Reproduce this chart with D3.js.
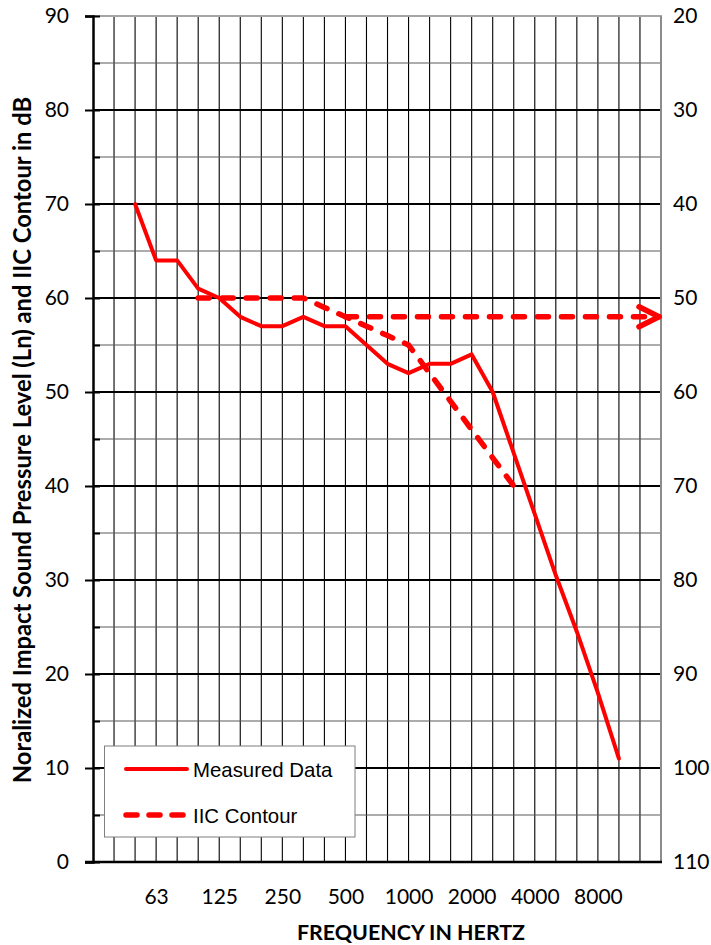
<!DOCTYPE html>
<html><head><meta charset="utf-8">
<script src="https://cdn.jsdelivr.net/npm/d3@7"></script>
<style>
html,body{margin:0;padding:0;background:#fff;}
svg{display:block;}
</style></head>
<body>
<svg id="chart" width="711" height="945"></svg>
<script>
// ---- DATA ----
const bands = ["31.5","40","50","63","80","100","125","160","200","250","315","400","500","630","800","1000","1250","1600","2000","2500","3150","4000","5000","6300","8000","10000","12500","16000"];
const tickLabels = ["63","125","250","500","1000","2000","4000","8000"];
const leftTicks = [0,10,20,30,40,50,60,70,80,90];
const rightTicks = [110,100,90,80,70,60,50,40,30,20];

const measuredFreq = ["50","63","80","100","125","160","200","250","315","400","500","630","800","1000","1250","1600","2000","2500","3150","4000","5000","6300","8000","10000"];
const measuredLevel = [70,64,64,61,60,58,57,57,58,57,57,55,53,52,53,53,54,50,43.5,37,30.5,24.5,18,11];

const contourFreq = ["100","125","160","200","250","315","400","500","630","800","1000","1250","1600","2000","2500","3150"];
const contourLevel = [60,60,60,60,60,60,59,58,57,56,55,52,49,46,43,40];

const iicFreq = ["500","16000"];
const iicLevel = [58,58];

const legendNames = ["Measured Data","IIC Contour"];

// ---- LAYOUT ----
const L = 93, R = 661, T = 16, B = 862;
const svg = d3.select("#chart");
const x = d3.scalePoint().domain(bands).range([L, R]).padding(0);
const y = d3.scaleLinear().domain([0, 90]).range([B, T]);
const yR = d3.scaleLinear().domain([110, 20]).range([B, T]);

const RED = "#ff0000";
const numFont = "Lato, 'Open Sans', sans-serif";

// vertical gridlines
svg.append("g")
  .selectAll("line").data(bands.slice(1, bands.length - 1)).join("line")
  .attr("x1", d => x(d)).attr("x2", d => x(d))
  .attr("y1", T).attr("y2", B)
  .attr("stroke", "#000").attr("stroke-width", 1.1);

// horizontal gridlines
const hVals = d3.range(5, 90, 5);
svg.append("g")
  .selectAll("line").data(hVals).join("line")
  .attr("x1", L).attr("x2", R)
  .attr("y1", d => y(d)).attr("y2", d => y(d))
  .attr("stroke", d => d % 10 === 0 ? "#000" : "#5a5a5a")
  .attr("stroke-width", d => d % 10 === 0 ? 2 : 1.2);

// plot border top/right
svg.append("line").attr("x1", L).attr("x2", R + 1).attr("y1", y(90)).attr("y2", y(90))
  .attr("stroke", "#a6a6a6").attr("stroke-width", 2);
svg.append("line").attr("x1", R).attr("x2", R).attr("y1", T).attr("y2", B)
  .attr("stroke", "#8c8c8c").attr("stroke-width", 2);

// data lines
const lineGen = d3.line().x(d => x(d[0])).y(d => y(d[1]));

svg.append("path")
  .datum(contourFreq.map((f, i) => [f, contourLevel[i]]))
  .attr("d", lineGen)
  .attr("fill", "none").attr("stroke", RED).attr("stroke-width", 5.5)
  .attr("stroke-linecap", "round").attr("stroke-dasharray", "11,13");

const iicPts = iicFreq.map((f, i) => [x(f), y(iicLevel[i])]);
iicPts[1][0] -= 2;
svg.append("path")
  .attr("d", d3.line()(iicPts))
  .attr("fill", "none").attr("stroke", RED).attr("stroke-width", 5.5)
  .attr("stroke-linecap", "round").attr("stroke-dasharray", "11,13");
// arrow head
const tip = iicPts[1];
svg.append("path")
  .attr("d", d3.line()([[tip[0] - 20, tip[1] - 10], tip, [tip[0] - 20, tip[1] + 10]]))
  .attr("fill", "none").attr("stroke", RED).attr("stroke-width", 5.5)
  .attr("stroke-linecap", "round").attr("stroke-linejoin", "round");

svg.append("path")
  .datum(measuredFreq.map((f, i) => [f, measuredLevel[i]]))
  .attr("d", lineGen)
  .attr("fill", "none").attr("stroke", RED).attr("stroke-width", 4)
  .attr("stroke-linejoin", "round").attr("stroke-linecap", "round");

// left axis
const gl = svg.append("g").attr("transform", `translate(${L},0)`)
  .call(d3.axisLeft(y).tickValues(leftTicks).tickSize(8).tickPadding(16));
gl.select(".domain").attr("stroke", "#000").attr("stroke-width", 2.5);
gl.selectAll(".tick line").attr("stroke", "#000").attr("stroke-width", 2);
gl.selectAll(".tick text").attr("font-family", numFont).attr("font-size", 21).attr("fill", "#000");
// inner minor ticks
const gm = svg.append("g").attr("transform", `translate(${L},0)`)
  .call(d3.axisRight(y).tickValues(d3.range(0, 95, 5)).tickSize(7).tickFormat(""));
gm.select(".domain").remove();
gm.selectAll(".tick line").attr("stroke", "#000").attr("stroke-width", 2);

// bottom axis line
svg.append("line").attr("x1", L - 8).attr("x2", R + 1).attr("y1", B).attr("y2", B)
  .attr("stroke", "#000").attr("stroke-width", 2.5);

// bottom labels
const gb = svg.append("g").attr("transform", `translate(0,${B})`)
  .call(d3.axisBottom(x).tickValues(tickLabels).tickSize(0));
gb.select(".domain").remove();
gb.selectAll(".tick text").attr("dy", null).attr("y", 42)
  .attr("font-family", numFont).attr("font-size", 21).attr("fill", "#000");

// right axis labels
const gr = svg.append("g").attr("transform", `translate(${R},0)`)
  .call(d3.axisRight(yR).tickValues(rightTicks).tickSize(0).tickPadding(12));
gr.select(".domain").remove();
gr.selectAll(".tick text").attr("font-family", numFont).attr("font-size", 21).attr("fill", "#000");

// legend
const lg = svg.append("g");
lg.append("rect").attr("x", 104.5).attr("y", 746).attr("width", 250.5).attr("height", 91)
  .attr("fill", "#fff").attr("stroke", "#7f7f7f").attr("stroke-width", 1);
const legY = [769, 815];
legendNames.forEach((name, i) => {
  lg.append("line").attr("x1", 126).attr("x2", 187).attr("y1", legY[i]).attr("y2", legY[i])
    .attr("stroke", RED).attr("stroke-width", i === 0 ? 4 : 5.5)
    .attr("stroke-linecap", "round")
    .attr("stroke-dasharray", i === 0 ? null : "11,12");
  lg.append("text").attr("x", 193).attr("y", legY[i] + 8)
    .attr("font-family", "'Liberation Sans', Arial, sans-serif").attr("font-size", 20.4)
    .attr("fill", "#000").text(name);
});

// titles (fit font size to target width)
function fitText(sel, target) {
  let fs = parseFloat(sel.attr("font-size"));
  for (let k = 0; k < 3; k++) {
    const w = sel.node().getComputedTextLength();
    fs = fs * target / w;
    sel.attr("font-size", fs);
  }
}
const yt = svg.append("text")
  .attr("transform", "translate(31,440) rotate(-90)")
  .attr("text-anchor", "middle")
  .attr("font-family", numFont).attr("font-weight", "bold").attr("font-size", 20)
  .attr("fill", "#000")
  .text("Noralized Impact Sound Pressure Level (Ln) and IIC Contour in dB");
fitText(yt, 686);

const xt = svg.append("text")
  .attr("x", 411).attr("y", 940)
  .attr("text-anchor", "middle")
  .attr("font-family", numFont).attr("font-weight", "bold").attr("font-size", 20)
  .attr("fill", "#000")
  .text("FREQUENCY IN HERTZ");
fitText(xt, 228);
</script>
</body></html>
